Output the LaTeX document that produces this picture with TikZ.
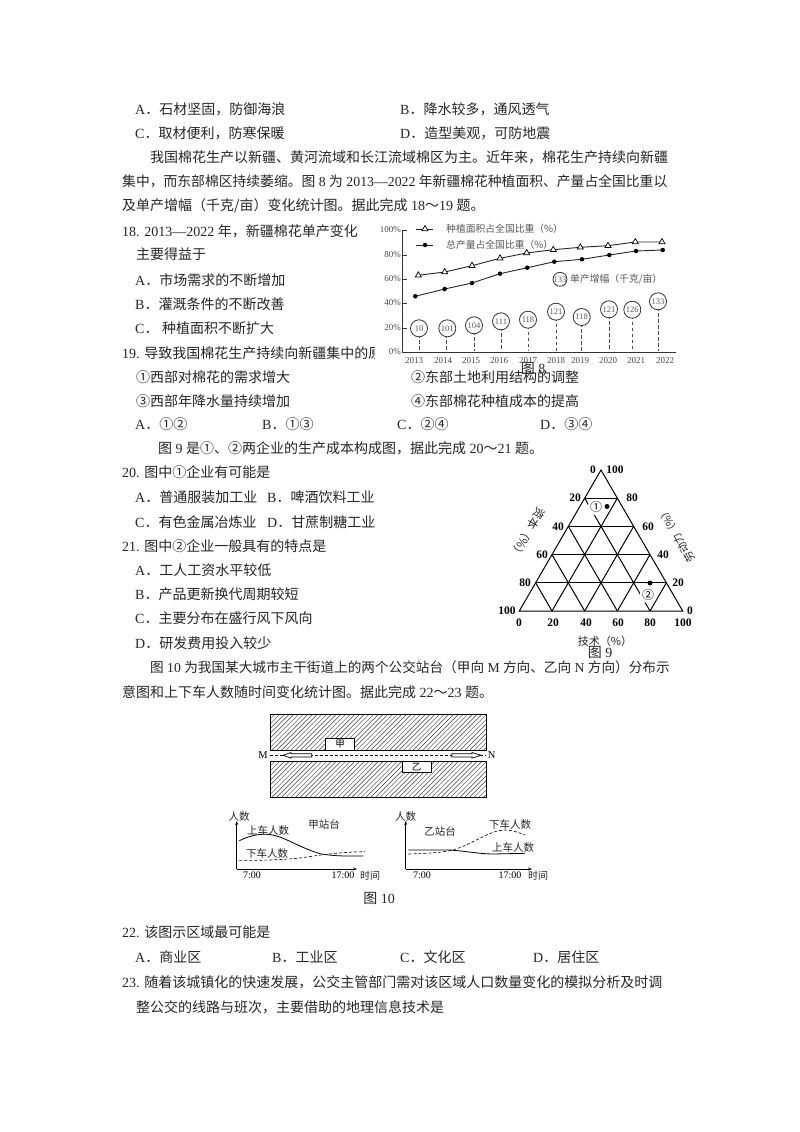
\documentclass[tikz,border=0pt]{standalone}
\usepackage{fontspec}
\setmainfont{Noto Sans CJK SC}
\newfontfamily\latinf{Liberation Serif}
\newcommand{\lt}[1]{{\latinf #1}}
\usetikzlibrary{arrows.meta,calc,shapes.geometric}
\tikzset{
 txt/.style={anchor=base west,inner sep=0pt,font=\fontsize{14}{14}\selectfont,text=black!85},
 figcap/.style={anchor=center,inner sep=0pt,font=\fontsize{14}{15}\selectfont,text=black!85},
 axl/.style={anchor=center,inner sep=0pt,font=\latinf\fontsize{9}{10}\selectfont,text=black!70},
 ser/.style={line width=.9pt,black!85},
 bub/.style={circle,draw=black!80,line width=.8pt,minimum size=17pt,inner sep=0pt,fill=white,font=\latinf\fontsize{8.5}{8}\selectfont,text=black!65},
 drop/.style={line width=.9pt,black!70,dash pattern=on 3.5pt off 2.5pt},
 tri/.style={regular polygon,regular polygon sides=3,draw=black,line width=.7pt,fill=white,minimum size=7pt,inner sep=0pt},
 dotm/.style={circle,fill=black,inner sep=0pt,minimum size=4.5pt},
 lg/.style={anchor=west,inner sep=0pt,font=\fontsize{9.8}{10}\selectfont,text=black!65},
 tl/.style={anchor=center,inner sep=0pt,font=\latinf\bfseries\fontsize{11.5}{12}\selectfont},
 gl/.style={line width=1pt,black},
 cl/.style={anchor=center,inner sep=0pt,font=\fontsize{10.5}{11}\selectfont,text=black!85},
 tm/.style={anchor=center,inner sep=0pt,font=\latinf\fontsize{10}{10}\selectfont},
 axa/.style={line width=.7pt,-{Stealth[length=4pt,width=3pt]}},
}
\begin{document}
\begin{tikzpicture}[x=1pt,y=-1pt]
\useasboundingbox[fill=white] (0,0) rectangle (800,1132);
% body text
\node[txt] (t1) at (135,114) {\lt{A}．石材坚固，防御海浪};
\node[txt] (t2) at (400,114) {\lt{B}．降水较多，通风透气};
\node[txt] (t3) at (135,138) {\lt{C}．取材便利，防寒保暖};
\node[txt] (t4) at (400,138) {\lt{D}．造型美观，可防地震};
\node[txt] (t5) at (150,162) {我国棉花生产以新疆、黄河流域和长江流域棉区为主。近年来，棉花生产持续向新疆};
\node[txt,font=\fontsize{13.8}{14}\selectfont] (t6) at (122,186) {集中，而东部棉区持续萎缩。图\lt{ 8 }为\lt{ 2013—2022 }年新疆棉花种植面积、产量占全国比重以};
\node[txt] (t7) at (122,210) {及单产增幅（千克/亩）变化统计图。据此完成\lt{ 18}～\lt{19 }题。};
\node[txt] (t8) at (122,236) {\lt{18. 2013—2022 }年，新疆棉花单产变化};
\node[txt] (t9) at (136,259) {主要得益于};
\node[txt] (t10) at (135,285) {\lt{A}．市场需求的不断增加};
\node[txt] (t11) at (135,309) {\lt{B}．灌溉条件的不断改善};
\node[txt] (t12) at (135,333) {\lt{C}．\lt{ }种植面积不断扩大};
\node[txt] (t13) at (122,358) {\lt{19. }导致我国棉花生产持续向新疆集中的原};
% chart 8 mask
\fill[white] (375,218) rectangle (690,362);
\node[txt] (t14) at (136,382) {①西部对棉花的需求增大};
\node[txt] (t15) at (411,382) {②东部土地利用结构的调整};
\node[txt] (t16) at (136,406) {③西部年降水量持续增加};
\node[txt] (t17) at (411,406) {④东部棉花种植成本的提高};
\node[txt] (t18) at (135,429) {\lt{A}．①②};
\node[txt] (t19) at (262,429) {\lt{B}．①③};
\node[txt] (t20) at (397,429) {\lt{C}．②④};
\node[txt] (t21) at (540,429) {\lt{D}．③④};
\node[txt] (t22) at (158,453) {图\lt{ 9 }是①、②两企业的生产成本构成图，据此完成\lt{ 20}～\lt{21 }题。};
\node[txt] (t23) at (122,477) {\lt{20. }图中①企业有可能是};
\node[txt] (t24) at (135,502) {\lt{A}．普通服装加工业};
\node[txt] (t25) at (267,502) {\lt{B}．啤酒饮料工业};
\node[txt] (t26) at (135,527) {\lt{C}．有色金属冶炼业};
\node[txt] (t27) at (267,527) {\lt{D}．甘蔗制糖工业};
\node[txt] (t28) at (122,551) {\lt{21. }图中②企业一般具有的特点是};
\node[txt] (t29) at (135,575) {\lt{A}．工人工资水平较低};
\node[txt] (t30) at (135,599) {\lt{B}．产品更新换代周期较短};
\node[txt] (t31) at (135,623) {\lt{C}．主要分布在盛行风下风向};
\node[txt] (t32) at (135,648) {\lt{D}．研发费用投入较少};
\node[txt,font=\fontsize{13.63}{14}\selectfont] (t33) at (150,672) {图\lt{ 10 }为我国某大城市主干街道上的两个公交站台（甲向\lt{ M }方向、乙向\lt{ N }方向）分布示};
\node[txt] (t34) at (122,697) {意图和上下车人数随时间变化统计图。据此完成\lt{ 22}～\lt{23 }题。};
\node[txt] (t35) at (122,937) {\lt{22. }该图示区域最可能是};
\node[txt] (t36) at (135,962) {\lt{A}．商业区};
\node[txt] (t37) at (272,962) {\lt{B}．工业区};
\node[txt] (t38) at (400,962) {\lt{C}．文化区};
\node[txt] (t39) at (533,962) {\lt{D}．居住区};
\node[txt] (t40) at (122,987) {\lt{23. }随着该城镇化的快速发展，公交主管部门需对该区域人口数量变化的模拟分析及时调};
\node[txt] (t41) at (136,1012) {整公交的线路与班次，主要借助的地理信息技术是};

% ---- Fig 8
\draw[line width=.8pt,black!80] (402.7,230) -- (402.7,352) -- (676,352);
\foreach \y/\l in {230/100,255/80,279/60,303/40,328/20,352/0}{
  \draw[line width=.8pt,black!80] (402.7,\y) -- (407,\y);
  \node[axl,anchor=east] (p\l) at (401,\y) {\l\%};
}
\foreach \x/\l in {414/2013,443/2014,471/2015,499/2016,528/2017,556/2018,580/2019,608/2020,636/2021,665/2022}
  \node[axl] (y\l) at (\x,360.5) {\l};
% drops and bubbles
\foreach \x/\y/\l/\dx in {419/328.3/10/419,447.3/328.3/101/446.7,474/325.3/104/474,501/321.3/111/501,528/319.7/118/528,556/311.7/121/556,581.7/317/118/581.7,609/309.3/121/609,632.3/309.7/126/632.3,658/301.3/133/658.7}{
  \draw[drop] (\dx,\y) -- (\dx,351);
  \node[bub] (b\x) at (\x,\y) {\l};
}
% series
\draw[ser] (418.3,275.3) -- (444.7,272) -- (472,265.7) -- (500,258.3) -- (526.7,253) -- (553.3,249.7) -- (580.3,247.3) -- (608,245.7) -- (635.3,242) -- (662,242);
\foreach \x/\y [count=\i] in {418.3/275.3,444.7/272,472/265.7,500/258.3,526.7/253,553.3/249.7,580.3/247.3,608/245.7,635.3/242,662/242}
  \node[tri] (s\i) at (\x,\y) {};
\draw[ser] (415.3,296.3) -- (444.7,289) -- (472,283) -- (500,273.7) -- (527.3,267.7) -- (554.3,261.7) -- (582,259.3) -- (609.3,255) -- (636,251) -- (662.7,250);
\foreach \x/\y [count=\i] in {415.3/296.3,444.7/289,472/283,500/273.7,527.3/267.7,554.3/261.7,582/259.3,609.3/255,636/251,662.7/250}
  \node[dotm] (d\i) at (\x,\y) {};
% legend
\draw[ser] (415.7,229) -- (433.3,229);
\node[tri] (lt) at (425,229) {};
\node[lg] (lt1) at (446,228.5) {种植面积占全国比重（\%）};
\draw[ser] (415.7,245) -- (433.3,245);
\node[dotm] (ld) at (425,245) {};
\node[lg] (ld1) at (446,244.5) {总产量占全国比重（\%）};
\node[bub,minimum size=13pt] (lb) at (560,279.3) {133};
\node[lg] (lb1) at (570,279.5) {单产增幅（千克/亩）};
\node[figcap] (c8) at (533,368) {图\lt{ }\lt{8}};

% ---- Fig 9
\coordinate (A) at (601,470);
\coordinate (B) at (519.3,611);
\coordinate (C) at (682.7,611);
\draw[gl] (A) -- (B) -- (C) -- cycle;
\foreach \f in {.2,.4,.6,.8}{
  \draw[gl] ($(A)!\f!(B)$) -- ($(A)!\f!(C)$);
}
\foreach \f in {.2,.4,.6,.8}{
  \draw[gl] ($(B)!\f!(A)$) -- ($(B)!\f!(C)$);
  \draw[gl] ($(C)!\f!(A)$) -- ($(C)!\f!(B)$);
}
\node[dotm,minimum size=5pt] (p1) at (607,506.5) {};
\node[dotm,minimum size=5pt] (p2) at (650,583) {};
\node[circle,fill=white,inner sep=0pt,font=\fontsize{12}{12}\selectfont] (q1) at (596,507) {①};
\node[circle,fill=white,inner sep=0pt,font=\fontsize{12}{12}\selectfont] (q2) at (648,595) {②};
\foreach \x/\y/\l in {593/470/0,615/470/100,575/498/20,558/527/40,542/555/60,525/583/80,507/611/100,632/498/80,648/527/60,663/555/40,678/583/20,690/611/0,519/623/0,553/623/20,586/623/40,618/623/60,650/623/80,683/623/100}
  \node[tl] (n\x\y) at (\x,\y) {\l};
\node[cl,rotate=240,font=\fontsize{11.5}{12}\selectfont] (lab1) at (528,533) {资本（\%）};
\node[cl,rotate=120] (lab2) at (676,535) {劳动力（\%）};
\node[cl,font=\fontsize{11}{11}\selectfont] (lab3) at (605,641) {技术（\%）};
\node[figcap] (c9) at (600,652.5) {图\lt{ 9}};

% ---- Fig 10 street
\begin{scope}
\clip (270.7,714) rectangle (486,750.7) (270.7,761) rectangle (486,797.3);
\foreach \k in {0,4.7,...,320}
  \draw[line width=.45pt,black!75] (180+\k,800) -- (180+\k+90,710);
\end{scope}
\draw[line width=.7pt] (270.7,714) rectangle (486,750.7);
\draw[line width=.7pt] (270.7,761) rectangle (486,797.3);
\node[draw,line width=.7pt,fill=white,minimum width=29.4pt,minimum height=12.4pt,inner sep=0pt,font=\fontsize{9.5}{10}\selectfont] (jia) at (340,744.5) {甲};
\node[draw,line width=.7pt,fill=white,minimum width=29.3pt,minimum height=11.7pt,inner sep=0pt,font=\fontsize{9.5}{10}\selectfont] (yi) at (416.7,766.8) {乙};
\node[anchor=center,inner sep=0pt,font=\latinf\fontsize{10.5}{11}\selectfont] (M) at (263,755) {M};
\node[anchor=center,inner sep=0pt,font=\latinf\fontsize{10.5}{11}\selectfont] (N) at (491.7,755) {N};
\draw[line width=.7pt,dash pattern=on 3pt off 2pt] ($(M.east)+(2,.3)$) -- ($(N.west)+(-2,.3)$);
\draw[line width=.7pt,fill=white] (311.7,753.7) -- (291,753.7) -- (291,752.5) -- (283,755.3) -- (291,758.1) -- (291,756.9) -- (311.7,756.9) -- cycle;
\draw[line width=.7pt,fill=white] (451.7,753.7) -- (472,753.7) -- (472,752.5) -- (481,755.3) -- (472,758.1) -- (472,756.9) -- (451.7,756.9) -- cycle;

% ---- Fig 10 graphs
\coordinate (o1) at (236.7,869);
\coordinate (o2) at (405.7,869);
\coordinate (e1y) at (236.7,821);
\coordinate (e1x) at (357,869);
\coordinate (e2y) at (405.7,821);
\coordinate (e2x) at (532,869);
\draw[axa] (o1) -- (e1y);
\draw[axa] (o1) -- (e1x);
\draw[axa] (o2) -- (e2y);
\draw[axa] (o2) -- (e2x);
\draw[line width=.8pt] (239.3,840.7) .. controls (250,835.5) and (258,834) .. (266.7,834.3) .. controls (283,835) and (295,846) .. (320,853.7) .. controls (335,856.5) and (350,856) .. (363.3,856);
\draw[line width=.6pt,dash pattern=on 3pt off 2pt] (239.3,860.3) .. controls (260,860.5) and (280,860) .. (300,858) .. controls (320,855) and (340,852) .. (365,851.7);
\draw[line width=.8pt] (408.3,850) -- (450,850) .. controls (465,851) and (480,854) .. (493.3,854) -- (525,853.3);
\draw[line width=.6pt,dash pattern=on 3pt off 2pt] (408.3,854) .. controls (425,853.5) and (440,853) .. (453,850) .. controls (475,843) and (490,830) .. (505,830) .. controls (512,830) and (520,833) .. (525,835);
\node[cl] (g1) at (239,817) {人数};
\node[cl] (g2) at (268,830) {上车人数};
\node[cl] (g3) at (324,824) {甲站台};
\node[cl] (g4) at (267,853) {下车人数};
\node[tm] (g5) at (252,875) {7:00};
\node[tm] (g6) at (343,875) {17:00};
\node[cl,font=\fontsize{10}{10}\selectfont] (g7) at (370,876) {时间};
\node[cl] (h1) at (405.7,817) {人数};
\node[cl] (h2) at (440,831) {乙站台};
\node[cl] (h3) at (510,824) {下车人数};
\node[cl] (h4) at (513,847) {上车人数};
\node[tm] (h5) at (422,875) {7:00};
\node[tm] (h6) at (510,875) {17:00};
\node[cl,font=\fontsize{10}{10}\selectfont] (h7) at (538,876) {时间};
\node[figcap] (c10) at (379,898) {图\lt{ 10}};
\end{tikzpicture}
\end{document}
